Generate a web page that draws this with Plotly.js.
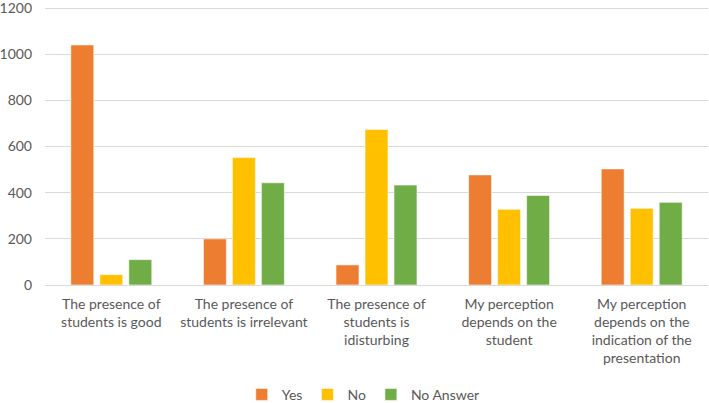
<!DOCTYPE html>
<html>
<head>
<meta charset="utf-8">
<script src="https://cdn.plot.ly/plotly-3.0.1.min.js"></script>
<style>
  html, body { margin: 0; padding: 0; background: #fff; }
  #plot { width: 709px; height: 403px; }
</style>
</head>
<body>
<div id="plot"></div>
<script>
// Categories and series values
var categories = [
    'The presence of<br>students is good',
    'The presence of<br>students is irrelevant',
    'The presence of<br>students is<br>idisturbing',
    'My perception<br>depends on the<br>student',
    'My perception<br>depends on the<br>indication of the<br>presentation'
];
var yesValues = [1040, 200, 87, 477, 503];
var noValues = [45, 552, 674, 328, 332];
var noAnswerValues = [110, 443, 433, 388, 358];
var seriesNames = ['Yes', 'No', 'No Answer'];
var seriesColors = ['#ED7D31', '#FFC000', '#70AD47'];
var yTicks = [0, 200, 400, 600, 800, 1000, 1200];

var allValues = [yesValues, noValues, noAnswerValues];
var data = [];
for (var i = 0; i < allValues.length; i++) {
    data.push({
        type: 'bar',
        name: seriesNames[i],
        x: categories,
        y: allValues[i],
        marker: { color: seriesColors[i], line: { color: '#ffffff', width: 0.6 } },
        hoverinfo: 'y'
    });
}

var layout = {
    width: 709,
    height: 403,
    margin: { l: 45, r: 1, t: 5, b: 118, autoexpand: false },
    paper_bgcolor: '#ffffff',
    plot_bgcolor: '#ffffff',
    font: { family: 'Lato, "Open Sans", sans-serif', size: 14, color: '#595959' },
    barmode: 'group',
    bargap: 0.344,
    bargroupgap: 0.207,
    showlegend: true,
    legend: {
        orientation: 'h',
        x: 0.48,
        xanchor: 'center',
        y: -0.335,
        yanchor: 'top',
        font: { size: 14, color: '#595959' },
        itemwidth: 30,
        tracegroupgap: 0
    },
    xaxis: {
        type: 'category',
        showgrid: false,
        showline: true,
        linecolor: '#D9D9D9',
        linewidth: 1,
        ticks: '',
        tickangle: 0,
        ticklabelstandoff: 6,
        tickfont: { size: 14, color: '#595959' },
        automargin: false
    },
    yaxis: {
        range: [0, 1213],
        tickvals: yTicks,
        ticktext: yTicks.map(String),
        showgrid: true,
        gridcolor: '#D9D9D9',
        gridwidth: 1,
        zeroline: false,
        showline: false,
        ticks: '',
        ticklen: 0,
        ticklabelstandoff: 12,
        ticklabeloverflow: 'allow',
        tickfont: { size: 14, color: '#595959' },
        automargin: false
    }
};

Plotly.newPlot('plot', data, layout, { displayModeBar: false, staticPlot: true });
</script>
</body>
</html>
